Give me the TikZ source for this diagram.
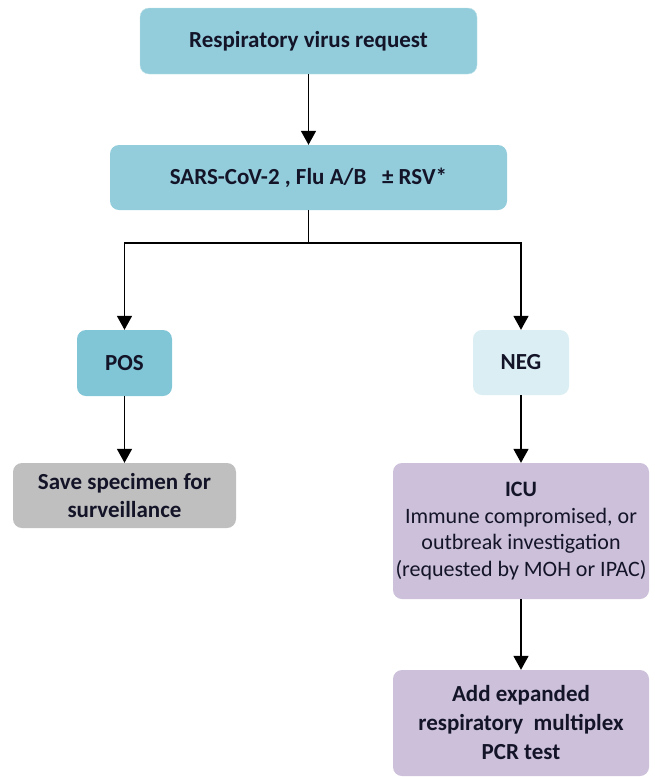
\documentclass[tikz,border=0pt]{standalone}
\usepackage{fontspec}
\setmainfont{Carlito}
\usetikzlibrary{arrows.meta}
\definecolor{teal1}{HTML}{93CDDC}
\definecolor{teal2}{HTML}{80C6D6}
\definecolor{lightteal}{HTML}{DAEEF3}
\definecolor{grayfill}{HTML}{BFBFBF}
\definecolor{lav}{HTML}{CCC0DA}
\definecolor{txt}{HTML}{141428}
\tikzset{
  x=1pt, y=-1pt,
  box/.style={rounded corners=9pt, align=center, inner sep=2pt, font=\fontsize{23}{28}\selectfont\bfseries, text=txt},
  conn/.style={line width=1.6pt, -{Triangle[width=15pt,length=14pt]}},
  plain/.style={line width=1.6pt}
}
\begin{document}
\begin{tikzpicture}
\useasboundingbox (0,0) rectangle (655,777);
\node[box, fill=teal1, draw=teal1!60!white, minimum width=337pt, minimum height=66pt] (req) at (308.5,41) {Respiratory virus request};
\node[box, fill=teal1, minimum width=397pt, minimum height=65pt] (sars) at (308.5,177.5) {SARS-CoV-2 , Flu A/B \ \ ± RSV*};
\node[box, fill=teal2, minimum width=95pt, minimum height=66pt] (pos) at (124.5,363) {POS};
\node[box, fill=lightteal, minimum width=96pt, minimum height=65pt] (neg) at (521,362.5) {NEG};
\node[box, fill=grayfill, minimum width=223pt, minimum height=65pt] (save) at (124.5,495.5) {Save specimen for\\surveillance};
\node[box, fill=lav, minimum width=256pt, minimum height=136pt, font=\fontsize{22}{26.5}\selectfont] (icu) at (521,531) {\textbf{ICU}\\Immune compromised, or\\outbreak investigation\\(requested by MOH or IPAC)};
\node[box, fill=lav, minimum width=256pt, minimum height=106pt, font=\fontsize{23}{29}\selectfont\bfseries] (add) at (521,723) {\rule{0pt}{8pt}Add expanded\\respiratory \ multiplex\\PCR test};
\coordinate (j) at (308.5,243);
\coordinate (jl) at (124.5,243);
\coordinate (jr) at (521,243);
\draw[conn] (req) -- (sars);
\draw[plain] (sars.south) -- (j);
\draw[conn] (j) -- (jl) -- (pos);
\draw[conn] (j) -- (jr) -- (neg);
\draw[conn] (pos) -- (save);
\draw[conn] (neg) -- (icu);
\draw[conn] (icu) -- (add);
\end{tikzpicture}
\end{document}
